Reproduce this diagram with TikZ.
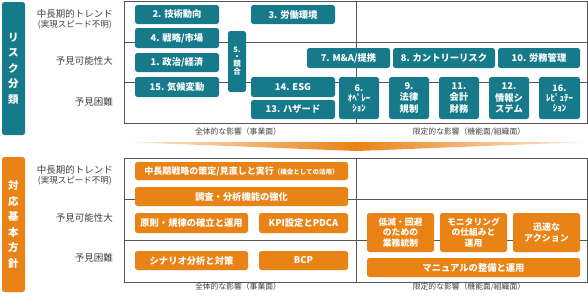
\documentclass[tikz,border=0pt]{standalone}
\usepackage{fontspec}
\setmainfont{Noto Sans CJK JP}
\usetikzlibrary{positioning}

\begin{document}
\begin{tikzpicture}[x=1pt, y=-1pt, font=\fontsize{9.5}{10}\selectfont,
    cellbox/.style={rounded corners=2.5pt, inner sep=0pt, text=white, align=center,
        font=\fontsize{9.3}{11.5}\selectfont\bfseries},
    rowlabel/.style={anchor=east, text=labelGray, align=center, inner sep=0pt},
    axislabel/.style={text=labelGray, font=\fontsize{7.8}{9}\selectfont, inner sep=0pt},
    gridline/.style={draw=gridGray, line width=0.8pt}]
    \definecolor{riskTeal}{RGB}{22,122,138}
    \definecolor{planOrange}{RGB}{233,131,22}
    \definecolor{gridGray}{RGB}{85,85,85}
    \definecolor{labelGray}{RGB}{64,64,64}

    \newcommand{\panelcell}[7]{
        \pgfmathsetmacro{\cx}{(#3+#5)/2}
        \pgfmathsetmacro{\cy}{(#4+#6)/2}
        \pgfmathsetmacro{\cw}{#5-#3}
        \pgfmathsetmacro{\ch}{#6-#4}
        \node[cellbox, #2, minimum width=\cw pt, minimum height=\ch pt] (#1) at (\cx,\cy) {#7};
    }

    \useasboundingbox (0,0) rectangle (588,300);

    % risk classification
    \draw[gridline] (124,1) rectangle (587,123);
    \draw[gridline] (124,42) -- (587,42);
    \draw[gridline] (124,82) -- (587,82);
    \draw[gridline] (356,1) -- (356,123);

    \panelcell{riskhead}{fill=riskTeal, font=\fontsize{10.5}{15.5}\selectfont\bfseries}{2}{2}{25}{135}{リ\\ス\\ク\\分\\類}

    \node[rowlabel] (trendA) at (113,19) {中長期的トレンド\\{\fontsize{8.5}{12}\selectfont (実現スピード不明)}};
    \node[rowlabel] (likelyA) at (113,61) {予見可能性大};
    \node[rowlabel] (hardA) at (113,102) {予見困難};

    \panelcell{tech}{fill=riskTeal}{135}{5}{219}{24}{2. 技術動向}
    \panelcell{labor}{fill=riskTeal}{251}{5}{335}{24}{3. 労働環境}
    \panelcell{market}{fill=riskTeal}{135}{28}{219}{48}{4. 戦略/市場}
    \panelcell{politics}{fill=riskTeal}{135}{53}{219}{72}{1. 政治/経済}
    \panelcell{climate}{fill=riskTeal}{135}{77}{219}{97}{15. 気候変動}
    \panelcell{rival}{fill=riskTeal, font=\fontsize{7.5}{6.8}\selectfont\bfseries}{228}{31}{246}{92}{5.\\・\\競\\合}
    \panelcell{esg}{fill=riskTeal}{251}{77}{335}{97}{14. ESG}
    \panelcell{hazard}{fill=riskTeal}{251}{100}{335}{119}{13. ハザード}
    \panelcell{alliance}{fill=riskTeal}{307}{48}{390}{68}{7. M\&A/提携}
    \panelcell{country}{fill=riskTeal}{393}{48}{495}{68}{8. カントリーリスク}
    \panelcell{labour}{fill=riskTeal}{498}{48}{580}{68}{10. 労務管理}
    \panelcell{operation}{fill=riskTeal, font=\fontsize{9}{10}\selectfont\bfseries}{339}{77}{379}{119}{6.\\ｵﾍﾟﾚｰ\\ｼｮﾝ}
    \panelcell{legal}{fill=riskTeal}{389}{77}{429}{119}{9.\\法律\\規制}
    \panelcell{finance}{fill=riskTeal}{439}{77}{479}{119}{11.\\会計\\財務}
    \panelcell{system}{fill=riskTeal}{489}{77}{529}{119}{12.\\情報シ\\ステム}
    \panelcell{reputation}{fill=riskTeal, font=\fontsize{9}{10}\selectfont\bfseries}{539}{77}{580}{119}{16.\\ﾚﾋﾟｭﾃｰ\\ｼｮﾝ}

    \node[axislabel] (wideA) at (238,132) {全体的な影響（事業面）};
    \node[axislabel] (narrowA) at (469,132) {限定的な影響（機能面/組織面）};

    % arrow between the panels
    \path[left color=planOrange!15, right color=planOrange!15, middle color=planOrange]
        (124,142) -- (587,142) -- (357,151) -- cycle;

    % basic policy
    \draw[gridline] (124,158) rectangle (587,282);
    \draw[gridline] (124,199) -- (587,199);
    \draw[gridline] (124,240) -- (587,240);
    \draw[gridline] (356,158) -- (356,282);

    \panelcell{planhead}{fill=planOrange, font=\fontsize{10.5}{15.6}\selectfont\bfseries}{2}{157}{25}{292}{対\\応\\基\\本\\方\\針}

    \node[rowlabel] (trendB) at (113,175.5) {中長期的トレンド\\{\fontsize{8.5}{12}\selectfont (実現スピード不明)}};
    \node[rowlabel] (likelyB) at (113,218) {予見可能性大};
    \node[rowlabel] (hardB) at (113,258) {予見困難};

    \panelcell{strategy}{fill=planOrange, font=\fontsize{9}{10}\selectfont\bfseries}{135}{162}{348}{180}{中長期戦略の策定/見直しと実行{\fontsize{6.5}{7}\selectfont（機会としての活用）}}
    \panelcell{research}{fill=planOrange}{135}{187}{348}{206}{調査・分析機能の強化}
    \panelcell{principle}{fill=planOrange}{135}{213}{248}{233}{原則・規律の確立と運用}
    \panelcell{kpi}{fill=planOrange}{259}{213}{348}{233}{KPI設定とPDCA}
    \panelcell{scenario}{fill=planOrange}{135}{251}{248}{270}{シナリオ分析と対策}
    \panelcell{bcp}{fill=planOrange}{259}{251}{348}{270}{BCP}
    \panelcell{control}{fill=planOrange, font=\fontsize{8.8}{10.2}\selectfont\bfseries}{367}{213}{434}{252}{低減・回避\\のための\\業務統制}
    \panelcell{monitor}{fill=planOrange, font=\fontsize{8.8}{10.2}\selectfont\bfseries}{440}{213}{507}{252}{モニタリング\\の仕組みと\\運用}
    \panelcell{action}{fill=planOrange, font=\fontsize{9}{11}\selectfont\bfseries}{513}{213}{580}{252}{迅速な\\アクション}
    \panelcell{manual}{fill=planOrange}{367}{258}{580}{277}{マニュアルの整備と運用}

    \node[axislabel] (wideB) at (238,287) {全体的な影響（事業面）};
    \node[axislabel] (narrowB) at (469,287) {限定的な影響（機能面/組織面）};
\end{tikzpicture}
\end{document}
